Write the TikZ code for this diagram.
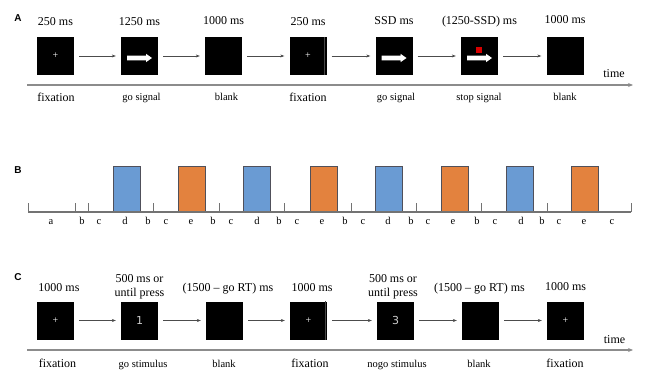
\documentclass[tikz,border=0pt]{standalone}
\usepackage{fontspec}
\setmainfont{Liberation Serif}
\newfontfamily\panelfont{Liberation Sans}
\newfontfamily\digfont{DejaVu Sans}
\usetikzlibrary{arrows.meta,calc}
\definecolor{barblue}{RGB}{106,155,211}
\definecolor{barorange}{RGB}{227,130,62}
\definecolor{edgegray}{RGB}{80,80,90}
\begin{document}
\begin{tikzpicture}[x=1pt,y=-1pt,
  screen/.style={fill=black, minimum width=37pt, minimum height=38pt, inner sep=0pt, text=white, font=\fontsize{10}{11}\selectfont},
  digit/.style={screen, text=black!20, font=\digfont\fontsize{11}{12}\selectfont},
  toplab/.style={anchor=base, inner sep=0pt, font=\fontsize{12}{14.4}\selectfont},
  twolab/.style={anchor=center, inner sep=0pt, align=center, font=\fontsize{12}{14.4}\selectfont},
  botbig/.style={anchor=base, inner sep=0pt, font=\fontsize{12}{14}\selectfont},
  botsmall/.style={anchor=base, inner sep=0pt, font=\fontsize{10.5}{12}\selectfont},
  letter/.style={anchor=base, inner sep=0pt, font=\fontsize{10.5}{12}\selectfont},
  panellab/.style={inner sep=0pt, font=\panelfont\bfseries\fontsize{10}{12}\selectfont},
  flow/.style={draw=black!70, line width=0.5pt, -{Stealth[length=4pt,width=3pt]}, shorten <=5pt, shorten >=5pt},
  timeline/.style={draw=black!45, line width=1.2pt, -{Stealth[length=5pt,width=4pt]}},
  axis/.style={draw=black!55, line width=1.2pt},
  bar/.style={draw=edgegray, line width=0.7pt},
  seam/.style={draw=black!72, line width=0.4pt},
  goarrow/.pic={\fill[white] (-12.5,-2.3) -- (6.5,-2.3) -- (6.5,-4.2) -- (12.5,0) -- (6.5,4.2) -- (6.5,2.3) -- (-12.5,2.3) -- cycle;}
]
\useasboundingbox (0,0) rectangle (650,379);

% ---------------- Panel A ----------------
\node[panellab] (labA) at (18,18.5) {A};
\node[screen] (a1) at (55.5,56) {+};
\node[screen] (a2) at (139.5,56) {};
\node[screen] (a3) at (223.5,56) {};
\node[screen] (a4) at (308,56) {+};
\node[screen] (a5) at (394,56) {};
\node[screen] (a6) at (479.5,56) {};
\node[screen] (a7) at (565,56) {};
\pic at ($(a2.center)+(0,2)$) {goarrow};
\pic at ($(a5.center)+(0,2)$) {goarrow};
\pic at ($(a6.center)+(0,2)$) {goarrow};
\fill[red!85!black] ($(a6.center)+(-3.5,-9)$) rectangle ($(a6.center)+(2.5,-3)$);
\draw[seam] ([xshift=-2.5pt]a4.north east) -- ([xshift=-2.5pt]a4.south east);
\foreach \i/\j in {1/2,2/3,3/4,4/5,5/6,6/7} \draw[flow] (a\i) -- (a\j);

\node[toplab] (ta1) at (55.5,26) {250 ms};
\node[toplab] (ta2) at (139.5,26) {1250 ms};
\node[toplab] (ta3) at (223.5,25) {1000 ms};
\node[toplab] (ta4) at (308,26) {250 ms};
\node[toplab] (ta5) at (394,24.5) {SSD ms};
\node[toplab] (ta6) at (479.5,24.5) {(1250-SSD) ms};
\node[toplab] (ta7) at (565,24) {1000 ms};

\coordinate (tA0) at (27,85);
\coordinate (tA1) at (633,85);
\draw[timeline] (tA0) -- (tA1);
\node[botbig] (timeA) at (614,78) {time};

\node[botbig] (ba1) at (56,102) {fixation};
\node[botsmall] (ba2) at (141.5,101) {go signal};
\node[botsmall] (ba3) at (226.5,100.5) {blank};
\node[botbig] (ba4) at (308,102) {fixation};
\node[botsmall] (ba5) at (396,101) {go signal};
\node[botsmall] (ba6) at (479,101) {stop signal};
\node[botsmall] (ba7) at (565,101) {blank};

% ---------------- Panel B ----------------
\node[panellab] (labB) at (18,170.5) {B};
\foreach \x in {113,243,375,506} \filldraw[bar, fill=barblue] (\x,212) rectangle (\x+27,166);
\foreach \x in {178,310,441,571} \filldraw[bar, fill=barorange] (\x,212) rectangle (\x+27,166);
\draw[axis] (28,212) -- (631,212);
\foreach \x in {28,75,88,153,219,284,351,416,481,547,631} \draw[axis, line width=1pt] (\x,212.5) -- (\x,203);
\foreach \x/\t in {51/a,82/b,99/c,125/d,148/b,166/c,191/e,213/b,231/c,257/d,279/b,297/c,322/e,345/b,363/c,388/d,411/b,428/c,453/e,477/b,495/c,521/d,542/b,559/c,584/e,612/c}
  \node[letter] at (\x,225) {\t};

% ---------------- Panel C ----------------
\node[panellab] (labC) at (18,277.5) {C};
\node[screen] (c1) at (55.5,320.5) {+};
\node[digit] (c2) at (139.5,320.5) {1};
\node[screen] (c3) at (224.5,320.5) {};
\node[screen] (c4) at (308.5,320.5) {+};
\node[digit] (c5) at (395.5,320.5) {3};
\node[screen] (c6) at (480.5,320.5) {};
\node[screen] (c7) at (565.5,320.5) {+};
\draw[seam] ([xshift=-2.5pt]c4.north east) -- ([xshift=-2.5pt]c4.south east);
\foreach \i/\j in {1/2,2/3,3/4,4/5,5/6,6/7} \draw[flow] (c\i) -- (c\j);

\node[toplab] (tc1) at (59,291) {1000 ms};
\node[twolab] (tc2) at (139.5,287) {500 ms or\\until press};
\node[toplab] (tc3) at (228,291) {(1500 -- go RT) ms};
\node[toplab] (tc4) at (312,291) {1000 ms};
\node[twolab] (tc5) at (393,287) {500 ms or\\until press};
\node[toplab] (tc6) at (479.5,291) {(1500 -- go RT) ms};
\node[toplab] (tc7) at (565.5,290.5) {1000 ms};

\coordinate (tC0) at (27,350);
\coordinate (tC1) at (633,350);
\draw[timeline] (tC0) -- (tC1);
\node[botbig] (timeC) at (614.5,343) {time};

\node[botbig] (bc1) at (57.5,367.5) {fixation};
\node[botsmall] (bc2) at (143,367) {go stimulus};
\node[botsmall] (bc3) at (224,367) {blank};
\node[botbig] (bc4) at (310,367.5) {fixation};
\node[botsmall] (bc5) at (397,367) {nogo stimulus};
\node[botsmall] (bc6) at (479,367) {blank};
\node[botbig] (bc7) at (565,367.5) {fixation};
\end{tikzpicture}
\end{document}
